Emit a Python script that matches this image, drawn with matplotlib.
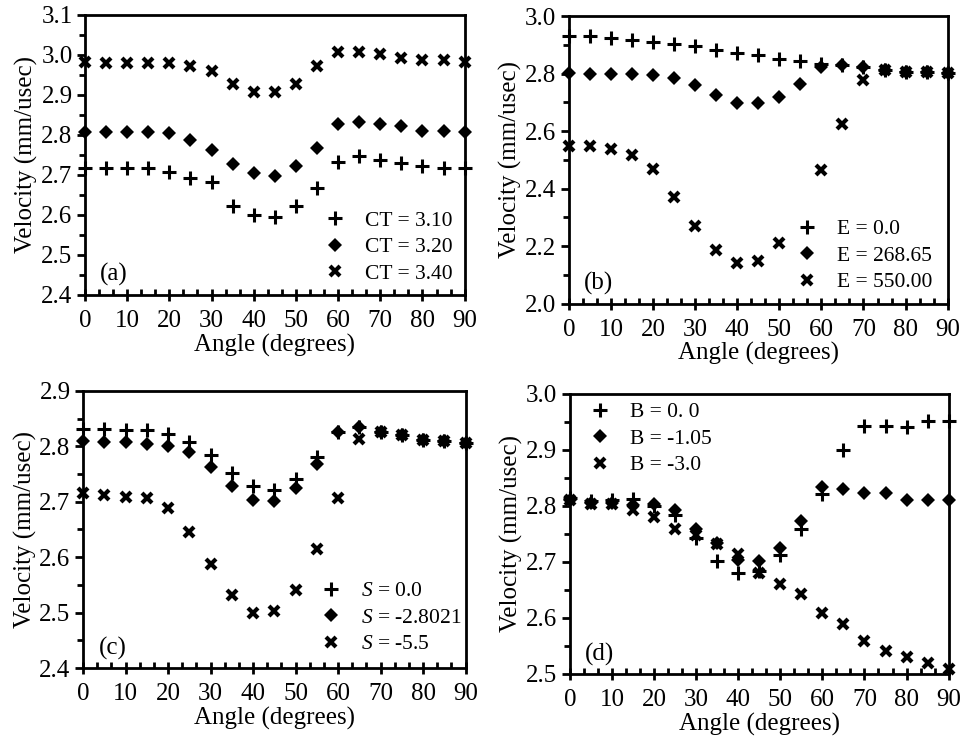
import numpy as np
import matplotlib.pyplot as plt
from matplotlib.ticker import MultipleLocator

plt.rcParams['font.family'] = ['Liberation Serif', 'DejaVu Serif']
plt.rcParams['mathtext.fontset'] = 'custom'
plt.rcParams['mathtext.rm'] = 'Liberation Serif'
plt.rcParams['mathtext.it'] = 'Liberation Serif:italic'

angle = [0, 5, 10, 15, 20, 25, 30, 35, 40, 45, 50, 55, 60, 65, 70, 75, 80, 85, 90]

# (a) CT variation
ct_310 = [2.718, 2.718, 2.718, 2.718, 2.708, 2.693, 2.683, 2.623, 2.600, 2.594,
          2.621, 2.668, 2.732, 2.748, 2.738, 2.729, 2.723, 2.717, 2.717]
ct_320 = [2.808, 2.808, 2.808, 2.808, 2.804, 2.788, 2.763, 2.728, 2.704, 2.698,
          2.723, 2.767, 2.827, 2.831, 2.827, 2.823, 2.810, 2.810, 2.807]
ct_340 = [2.981, 2.980, 2.980, 2.980, 2.980, 2.973, 2.960, 2.928, 2.908, 2.908,
          2.927, 2.973, 3.006, 3.006, 3.002, 2.992, 2.988, 2.988, 2.983]

# (b) E variation (no point visible at 55 deg for E = 550)
e_0 = [2.933, 2.933, 2.925, 2.918, 2.910, 2.904, 2.898, 2.883, 2.872, 2.864,
       2.852, 2.844, 2.835, 2.829, 2.823, 2.814, 2.806, 2.806, 2.802]
e_268 = [2.802, 2.800, 2.800, 2.800, 2.794, 2.786, 2.760, 2.725, 2.698, 2.698,
         2.719, 2.765, 2.823, 2.829, 2.825, 2.814, 2.806, 2.806, 2.802]
e_550 = [2.549, 2.549, 2.538, 2.517, 2.468, 2.372, 2.270, 2.187, 2.141, 2.147,
         2.210, np.nan, 2.465, 2.624, 2.779, 2.814, 2.806, 2.806, 2.802]

# (c) S variation
s_0 = [2.832, 2.832, 2.829, 2.829, 2.823, 2.808, 2.784, 2.752, 2.728, 2.722,
       2.742, 2.780, 2.826, 2.835, 2.826, 2.820, 2.811, 2.810, 2.806]
s_28 = [2.809, 2.808, 2.808, 2.804, 2.800, 2.790, 2.762, 2.728, 2.703, 2.701,
        2.724, 2.768, 2.826, 2.835, 2.826, 2.820, 2.811, 2.810, 2.806]
s_55 = [2.715, 2.713, 2.709, 2.706, 2.688, 2.646, 2.587, 2.531, 2.499, 2.503,
        2.541, 2.614, 2.707, 2.814, 2.826, 2.820, 2.811, 2.810, 2.806]

# (d) B variation
b_0 = [2.814, 2.808, 2.811, 2.812, 2.799, 2.784, 2.742, 2.702, 2.681, 2.683,
       2.713, 2.758, 2.821, 2.900, 2.942, 2.942, 2.940, 2.951, 2.951]
b_105 = [2.811, 2.805, 2.805, 2.802, 2.803, 2.793, 2.759, 2.733, 2.704, 2.702,
         2.724, 2.773, 2.834, 2.831, 2.823, 2.823, 2.811, 2.811, 2.811]
b_30 = [2.811, 2.804, 2.804, 2.792, 2.781, 2.759, 2.748, 2.732, 2.714, 2.681,
        2.660, 2.642, 2.609, 2.590, 2.558, 2.541, 2.530, 2.519, 2.508]


def panel(ax, series, labels, ylim, ymajor, yminor, tag, legend_loc, legend_anchor):
    styles = [dict(marker='+', ms=10, mew=2.2),
              dict(marker='D', ms=7, mew=0),
              dict(marker='x', ms=7, mew=3.0)]
    for ys, lab, st in zip(series, labels, styles):
        ax.plot(angle, ys, linestyle='none', color='black', label=lab,
                clip_on=False, **st)
    ax.set_xlim(0, 90)
    ax.set_ylim(*ylim)
    ax.xaxis.set_major_locator(MultipleLocator(10))
    ax.xaxis.set_minor_locator(MultipleLocator(10 / 3))
    ax.yaxis.set_major_locator(MultipleLocator(ymajor))
    ax.yaxis.set_minor_locator(MultipleLocator(yminor))
    ax.tick_params(axis='x', which='major', direction='inout', length=8, width=2,
                   labelsize=18, pad=7)
    ax.tick_params(axis='x', which='minor', direction='in', length=4, width=2)
    ax.tick_params(axis='y', which='major', direction='out', length=6, width=2,
                   labelsize=18, pad=3)
    ax.tick_params(axis='y', which='minor', direction='out', length=4, width=2)
    ax.yaxis.set_major_formatter(plt.FormatStrFormatter('%.1f'))
    for sp in ax.spines.values():
        sp.set_linewidth(2)
    ax.set_xlabel('Angle (degrees)', fontsize=18, labelpad=1)
    ax.set_ylabel('Velocity (mm/usec)', fontsize=18, labelpad=2)
    ax.text(0.04, 0.03, tag, transform=ax.transAxes, fontsize=18,
            ha='left', va='bottom')
    ax.legend(loc=legend_loc, bbox_to_anchor=legend_anchor, frameon=False,
              fontsize=15.5, handlelength=1.0, handletextpad=0.9,
              labelspacing=0.3, borderpad=0, borderaxespad=0)


fig = plt.figure(figsize=(9.66, 7.39), dpi=100)
ax_a = fig.add_axes([0.088, 0.601, 0.393, 0.379])
ax_b = fig.add_axes([0.589, 0.589, 0.392, 0.389])
ax_c = fig.add_axes([0.086, 0.096, 0.396, 0.375])
ax_d = fig.add_axes([0.590, 0.088, 0.392, 0.379])

panel(ax_a, [ct_310, ct_320, ct_340], ['CT = 3.10', 'CT = 3.20', 'CT = 3.40'],
      (2.4, 3.1), 0.1, 0.05, '(a)', 'lower left', (0.63, 0.04))
panel(ax_b, [e_0, e_268, e_550], ['E = 0.0', 'E = 268.65', 'E = 550.00'],
      (2.0, 3.0), 0.2, 0.1, '(b)', 'lower left', (0.6, 0.04))
panel(ax_c, [s_0, s_28, s_55], ['$S$ = 0.0', '$S$ = -2.8021', '$S$ = -5.5'],
      (2.4, 2.9), 0.1, 0.05, '(c)', 'lower left', (0.62, 0.05))
panel(ax_d, [b_0, b_105, b_30], ['B = 0. 0', 'B = -1.05', 'B = -3.0'],
      (2.5, 3.0), 0.1, 0.05, '(d)', 'upper left', (0.05, 0.97))

fig.savefig('out.png', dpi=100)
